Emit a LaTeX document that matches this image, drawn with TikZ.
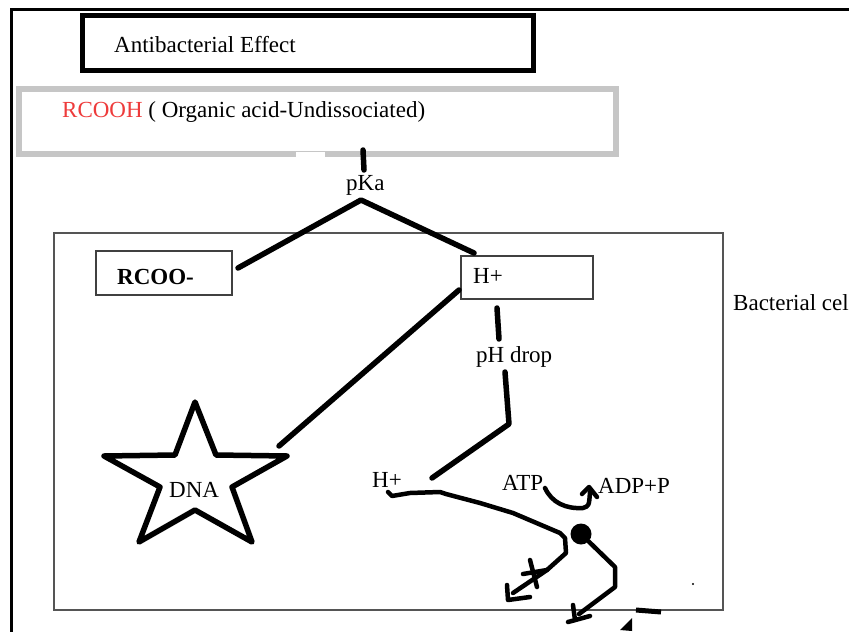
\documentclass[tikz,border=0pt]{standalone}
\usepackage{fontspec}
\setmainfont{Liberation Serif}
\definecolor{boxgray}{HTML}{C6C6C6}
\definecolor{cellgray}{HTML}{555555}
\definecolor{acidred}{HTML}{EE3B3B}
\begin{document}
\begin{tikzpicture}[x=1pt,y=-1pt,
  txt/.style={font=\fontsize{23}{27}\selectfont, inner sep=0pt, anchor=base west},
  stroke/.style={line width=5.5pt, line cap=round, line join=round},
  hand/.style={line width=4.5pt, line cap=round, line join=round},
  thinbox/.style={draw=black!75, line width=1.5pt, inner sep=0pt},
]
\useasboundingbox (0,0) rectangle (849,632);
\fill[white] (0,0) rectangle (849,632);
% outer frame
\draw[line width=3pt] (11,633) -- (11,9) -- (850,9);

% title boxes
\node[draw, line width=5pt, minimum width=451pt, minimum height=55pt, inner sep=0pt] (ab) at (308,43) {};
\node[txt] (abt) at (114,52) {Antibacterial Effect};
\node[draw=boxgray, line width=6pt, minimum width=597pt, minimum height=65pt, inner sep=0pt] (acid) at (317.5,121.5) {};
\node[txt] (acidt) at (62,117) {\textcolor{acidred}{RCOOH} ( Organic acid-Undissociated)};
\fill[white] (296,151.5) rectangle (325,157);

% bacterial cell
\node[draw=cellgray, line width=1.5pt, minimum width=669pt, minimum height=377pt, inner sep=0pt] (cell) at (388.5,421.5) {};
\node[txt] (cellt) at (733,310) {Bacterial cel};

% labels
\node[txt] (pka) at (346,190) {pKa};
\node[thinbox, minimum width=136pt, minimum height=44pt] (rcoo) at (164,273) {};
\node[txt] (rcoot) at (117,284) {\bfseries RCOO-};
\node[thinbox, minimum width=132pt, minimum height=43pt] (hbox) at (527,277.5) {};
\node[txt] (hboxt) at (473,283) {H+};
\node[txt] (phd) at (476,362) {pH drop};
\node[txt] (hlow) at (372,487) {H+};
\node[txt] (atp) at (502,490) {ATP};
\node[txt] (adp) at (598,493) {ADP+P};

% star (DNA)
\draw[line width=5.5pt, line join=round, line cap=round]
  (195,402) -- (216,455) -- (287,456) -- (232,487) -- (252,542) -- (195,510)
  -- (139,542) -- (160,487) -- (104,456) -- (175,455) -- cycle;
\node[txt] (dna) at (169,497) {DNA};

% connector coordinates
\coordinate (t1) at (363,150);
\coordinate (t2) at (364,170);
\coordinate (apex) at (361,200);
\coordinate (rl) at (238,268);
\coordinate (hr) at (474,253);
\coordinate (hb) at (459,290);
\coordinate (ds) at (279,446);
\coordinate (p1) at (497,308);
\coordinate (p2) at (499,339);
\coordinate (p3) at (505,372);
\coordinate (p4) at (509,424);
\coordinate (p5) at (432,478);

\draw[stroke] (t1) -- (t2);
\draw[stroke] (rl) -- (apex) -- (hr);
\draw[stroke] (hb) -- (ds);
\draw[stroke] (p1) -- (p2);
\draw[stroke] (p3) -- (p4) -- (p5);

% H+ path to blocked arrow
\coordinate (h0) at (388,492);
\coordinate (hend) at (513,593);
\draw[hand] (h0) -- (392,496) -- (410,493) -- (440,492) -- (446,494) -- (480,503)
  -- (513,513) -- (560,533) -- (565,538) -- (566,553) -- (547,570) -- (hend);
\draw[hand] (507,585) -- (508,600) -- (530,597);
\draw[hand] (530,560) -- (537,587);
\draw[hand] (523,574) -- (547,570);

% pump dot and arrow
\node[circle, fill=black, minimum size=21pt, inner sep=0pt] (dot) at (581,534) {};
\coordinate (dend) at (579,614);
\draw[hand] (dot) -- (615,567) -- (615,587) -- (dend);
\draw[hand] (573,605) -- (575,620);
\draw[hand] (568,622) -- (590,616);

% ATP -> ADP+P
\coordinate (a0) at (545,488);
\coordinate (a1) at (590,492);
\draw[hand] (a0) .. controls (552,503) and (566,509) .. (583,508) .. controls (589,506) .. (a1);
\draw[hand] (582,494) -- (589,487) -- (597,497);

% stray marks
\draw[line width=5pt] (636,610) -- (661,612);
\fill (620,630) -- (632,618) -- (632,631) -- cycle;
\fill (693,584) circle (1.2pt);
\end{tikzpicture}
\end{document}
